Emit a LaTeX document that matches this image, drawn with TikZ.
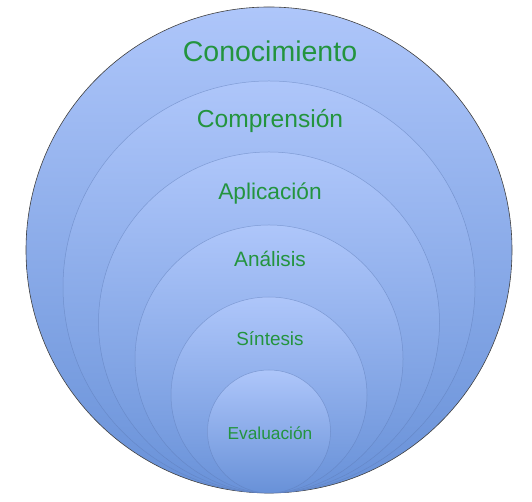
\documentclass[tikz,border=0pt]{standalone}
\usepackage{fontspec}
\setmainfont{Liberation Sans}
\definecolor{lvtext}{RGB}{35,148,62}
\definecolor{lvtop}{RGB}{174,198,250}
\definecolor{lvbot}{RGB}{104,145,216}
\definecolor{lvedge}{RGB}{95,125,185}
\tikzset{
  level/.style={circle, inner sep=0pt, minimum size=#1, top color=lvtop, bottom color=lvbot,
    draw=lvedge, draw opacity=0.55, line width=0.5pt},
  outerlevel/.style={level=#1, draw=black!75, draw opacity=1, line width=0.6pt},
  lvlabel/.style={text=lvtext, anchor=base, inner sep=0pt}
}
\begin{document}
\begin{tikzpicture}[x=1pt,y=1pt]
\useasboundingbox (0,0) rectangle (532,502);
\node[outerlevel=486pt] (c1) at (269,252) {};
\node[level=412pt] (c2) at (269,215) {};
\node[level=341pt] (c3) at (269,179.5) {};
\node[level=268pt] (c4) at (269,143) {};
\node[level=196pt] (c5) at (269,107) {};
\node[level=123pt] (c6) at (269,70.5) {};
\node[lvlabel, font=\fontsize{28.5}{30}\selectfont] (t1) at (270,440.3) {Conocimiento};
\node[lvlabel, font=\fontsize{24.6}{26}\selectfont] (t2) at (270,374.7) {Comprensión};
\node[lvlabel, font=\fontsize{22.7}{24}\selectfont] (t3) at (270,302.7) {Aplicación};
\node[lvlabel, font=\fontsize{20.8}{22}\selectfont] (t4) at (270,235.3) {Análisis};
\node[lvlabel, font=\fontsize{18.9}{20}\selectfont] (t5) at (270,156) {Síntesis};
\node[lvlabel, font=\fontsize{17.3}{18}\selectfont] (t6) at (270,62.7) {Evaluación};
\end{tikzpicture}
\end{document}
